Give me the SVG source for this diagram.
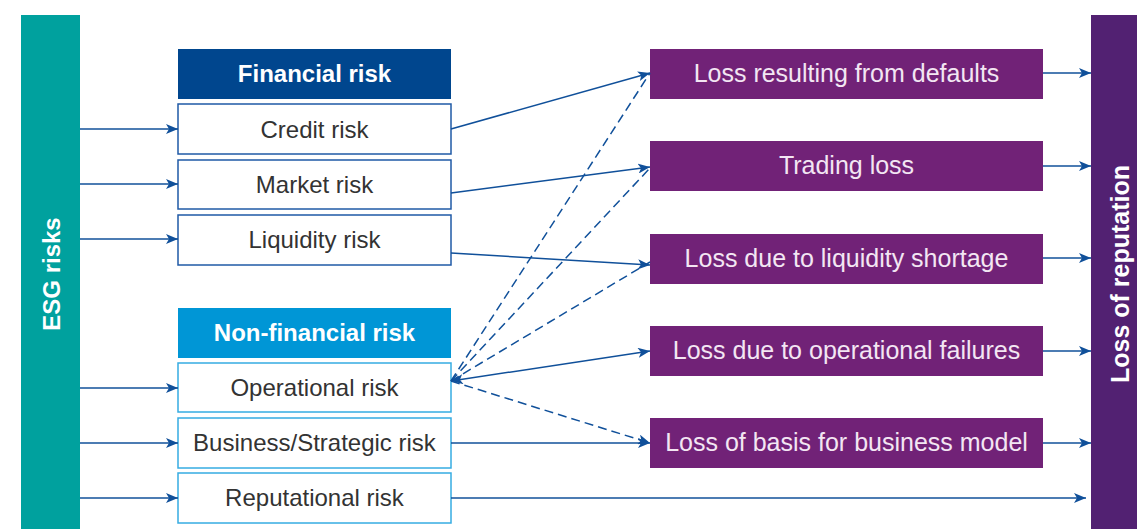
<svg xmlns="http://www.w3.org/2000/svg" width="1138" height="529" viewBox="0 0 1138 529">
<style>
.lbl{font-family:"Liberation Sans",Arial,sans-serif;font-size:24px;fill:#333333;text-anchor:middle;dominant-baseline:central}
.hdr{font-family:"Liberation Sans",Arial,sans-serif;font-size:24px;font-weight:bold;fill:#ffffff;text-anchor:middle;dominant-baseline:central}
.loss{font-family:"Liberation Sans",Arial,sans-serif;font-size:25px;fill:#f3e6f3;text-anchor:middle;dominant-baseline:central}
.bar{font-family:"Liberation Sans",Arial,sans-serif;font-size:24px;font-weight:bold;fill:#ffffff;text-anchor:middle;dominant-baseline:central}
.fbox{fill:#ffffff;stroke:#1f5aa6;stroke-width:1.5}
.nbox{fill:#ffffff;stroke:#36ace2;stroke-width:1.5}
.pbox{fill:#712277}
.c{stroke:#10509a;stroke-width:1.5;fill:none}
.d{stroke:#10509a;stroke-width:1.5;fill:none;stroke-dasharray:9,5}
</style>
<defs>
<marker id="ah" viewBox="0 0 12 10" refX="12" refY="5" markerWidth="12" markerHeight="10" markerUnits="userSpaceOnUse" orient="auto-start-reverse">
<path d="M0,0 L12,5 L0,10 L3,5 Z" fill="#10509a"/>
</marker>
</defs>
<g id="esg"><rect x="21" y="15" width="59" height="514" fill="#00a19e"/><text class="bar" transform="translate(51,274) rotate(-90)">ESG risks</text></g>
<g id="reputation"><rect x="1091" y="15" width="46" height="514" fill="#522172"/><text class="bar" style="font-size:25px" transform="translate(1120,274) rotate(-90)">Loss of reputation</text></g>
<g id="financial"><rect x="178" y="49" width="273" height="50" fill="#00468e"/><text class="hdr" x="314.5" y="73">Financial risk</text></g>
<g id="credit"><rect class="fbox" x="178" y="104" width="273" height="50"/><text class="lbl" x="314.5" y="129">Credit risk</text></g>
<g id="market"><rect class="fbox" x="178" y="160" width="273" height="49"/><text class="lbl" x="314.5" y="184">Market risk</text></g>
<g id="liquidity"><rect class="fbox" x="178" y="215" width="273" height="50"/><text class="lbl" x="314.5" y="239">Liquidity risk</text></g>
<g id="nonfinancial"><rect x="178" y="308" width="273" height="50" fill="#0096d6"/><text class="hdr" x="314.5" y="332">Non-financial risk</text></g>
<g id="operational"><rect class="nbox" x="178" y="363" width="273" height="49"/><text class="lbl" x="314.5" y="387">Operational risk</text></g>
<g id="business"><rect class="nbox" x="178" y="418" width="273" height="50"/><text class="lbl" x="314.5" y="442">Business/Strategic risk</text></g>
<g id="reputational"><rect class="nbox" x="178" y="473" width="273" height="50"/><text class="lbl" x="314.5" y="497">Reputational risk</text></g>
<g id="loss-defaults"><rect class="pbox" x="650" y="49" width="393" height="50"/><text class="loss" x="846.5" y="73">Loss resulting from defaults</text></g>
<g id="loss-trading"><rect class="pbox" x="650" y="141" width="393" height="50"/><text class="loss" x="846.5" y="165">Trading loss</text></g>
<g id="loss-liquidity"><rect class="pbox" x="650" y="234" width="393" height="50"/><text class="loss" x="846.5" y="258">Loss due to liquidity shortage</text></g>
<g id="loss-operational"><rect class="pbox" x="650" y="326" width="393" height="50"/><text class="loss" x="846.5" y="350">Loss due to operational failures</text></g>
<g id="loss-basis"><rect class="pbox" x="650" y="418" width="393" height="50"/><text class="loss" x="846.5" y="442">Loss of basis for business model</text></g>
<g id="connectors">
<line class="c" x1="80" y1="129" x2="178" y2="129" marker-end="url(#ah)"/>
<line class="c" x1="80" y1="184" x2="178" y2="184" marker-end="url(#ah)"/>
<line class="c" x1="80" y1="239" x2="178" y2="239" marker-end="url(#ah)"/>
<line class="c" x1="80" y1="388" x2="178" y2="388" marker-end="url(#ah)"/>
<line class="c" x1="80" y1="443" x2="178" y2="443" marker-end="url(#ah)"/>
<line class="c" x1="80" y1="498" x2="178" y2="498" marker-end="url(#ah)"/>
<line class="c" x1="451" y1="129" x2="650" y2="73" marker-end="url(#ah)"/>
<line class="c" x1="451" y1="193" x2="650" y2="167" marker-end="url(#ah)"/>
<line class="c" x1="451" y1="253" x2="650" y2="265" marker-end="url(#ah)"/>
<line class="d" x1="451" y1="381" x2="650" y2="73"/>
<line class="d" x1="451" y1="381" x2="650" y2="168"/>
<line class="d" x1="451" y1="381" x2="650" y2="262"/>
<line class="c" x1="451" y1="381" x2="650" y2="351" marker-start="url(#ah)" marker-end="url(#ah)"/>
<line class="d" x1="451" y1="381" x2="650" y2="443" marker-end="url(#ah)"/>
<line class="c" x1="451" y1="443" x2="650" y2="443" marker-end="url(#ah)"/>
<line class="c" x1="451" y1="498" x2="1086" y2="498" marker-end="url(#ah)"/>
<line class="c" x1="1043" y1="73" x2="1091" y2="73" marker-end="url(#ah)"/>
<line class="c" x1="1043" y1="166" x2="1091" y2="166" marker-end="url(#ah)"/>
<line class="c" x1="1043" y1="258" x2="1091" y2="258" marker-end="url(#ah)"/>
<line class="c" x1="1043" y1="351" x2="1091" y2="351" marker-end="url(#ah)"/>
<line class="c" x1="1043" y1="443" x2="1091" y2="443" marker-end="url(#ah)"/>
</g>
</svg>
